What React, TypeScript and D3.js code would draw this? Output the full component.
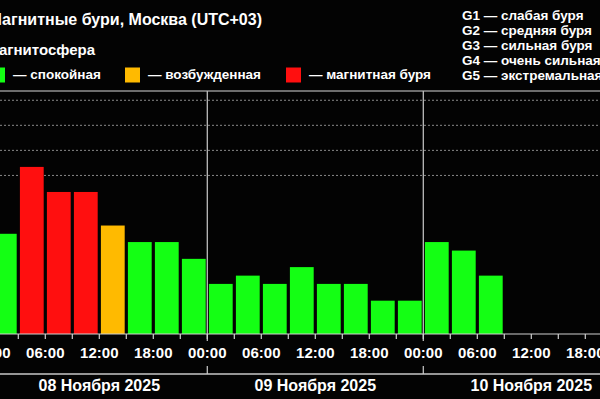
import React from "react";
import * as d3 from "d3";

// ---- data ----
const days = ["08 Ноября 2025", "09 Ноября 2025", "10 Ноября 2025"];
const kp08 = [4.0, 6.67, 5.67, 5.67, 4.33, 3.67, 3.67, 3.0];
const kp09 = [2.0, 2.33, 2.0, 2.67, 2.0, 2.0, 1.33, 1.33];
const kp10 = [3.67, 3.33, 2.33];
const hourLabels = ["00:00", "06:00", "12:00", "18:00"];
const gridValues = [6.33, 7.33, 8.33, 9.33];
const stateLegend = [
  { key: "calm", label: "— спокойная" },
  { key: "excited", label: "— возбужденная" },
  { key: "storm", label: "— магнитная буря" },
];
const gLegend = [
  "G1 — слабая буря",
  "G2 — средняя буря",
  "G3 — сильная буря",
  "G4 — очень сильная буря",
  "G5 — экстремальная буря",
];
const titleText = "Магнитные бури, Москва (UTC+03)";
const subTitle = "Магнитосфера";

const W = 600;
const H = 399;
const FONT = "'Liberation Sans', Arial, sans-serif";
const colors: Record<string, string> = {
  calm: "#14ff14",
  excited: "#ffba00",
  storm: "#ff0f0f",
};

function stateOf(kp: number) {
  if (kp < 4.2) return "calm";
  if (kp < 5) return "excited";
  return "storm";
}

export default function App() {
  const values = [...kp08, ...kp09, ...kp10];
  const x = d3.scaleLinear().domain([0, 72]).range([-8.7, -8.7 + 648]);
  const y = d3.scaleLinear().domain([0, 9.7]).range([334, 91]);
  const step = 3;
  const pad = 1.6;
  const ticks3 = d3.range(0, 73, 3);
  const ticks6 = d3.range(0, 72, 6);
  const dayLines = [24, 48];
  const legendX = [-10, 125, 286];

  return (
    <svg
      width={W}
      height={H}
      style={{ position: "absolute", left: 0, top: 0, display: "block" }}
      fontFamily={FONT}
      fontWeight="bold"
    >
      <rect x={0} y={0} width={W} height={H} fill="#030303" />

      {/* title */}
      <text x={262} y={25} fill="#fff" fontSize={16} textAnchor="end">
        {titleText}
      </text>
      <text x={95} y={55} fill="#fff" fontSize={15} textAnchor="end">
        {subTitle}
      </text>

      {/* state legend */}
      {stateLegend.map((s, i) => (
        <g key={s.key}>
          <rect x={legendX[i]} y={67.5} width={15} height={15} fill={colors[s.key]} />
          <text x={legendX[i] + 23} y={79} fill="#fff" fontSize={13.5}>
            {s.label}
          </text>
        </g>
      ))}

      {/* G legend */}
      {gLegend.map((g, i) => (
        <text key={g} x={462} y={19.5 + i * 15} fill="#fff" fontSize={13.5}>
          {g}
        </text>
      ))}

      {/* grid */}
      {gridValues.map((v) => (
        <line
          key={v}
          x1={0}
          x2={W}
          y1={y(v)}
          y2={y(v)}
          stroke="#8a8a8a"
          strokeWidth={1}
          strokeDasharray="2,2"
        />
      ))}
      <line x1={0} x2={W} y1={91} y2={91} stroke="#d8d8d8" strokeWidth={1.2} />

      {/* bars */}
      {values.map((v, i) => (
        <rect
          key={i}
          x={x(i * step) + pad}
          y={y(v)}
          width={x((i + 1) * step) - x(i * step) - 2 * pad}
          height={y(0) - y(v)}
          fill={colors[stateOf(v)]}
        />
      ))}

      {/* day separators */}
      {dayLines.map((h) => (
        <g key={h}>
          <line x1={x(h)} x2={x(h)} y1={91} y2={341} stroke="#bdbdbd" strokeWidth={1.3} />
          <line x1={x(h)} x2={x(h)} y1={366} y2={374} stroke="#bdbdbd" strokeWidth={1.3} />
        </g>
      ))}

      {/* axis */}
      <line x1={0} x2={W} y1={y(0)} y2={y(0)} stroke="#d0d0d0" strokeWidth={1.2} />
      {ticks3.map((h) => (
        <line key={h} x1={x(h)} x2={x(h)} y1={y(0)} y2={y(0) + 5} stroke="#d0d0d0" strokeWidth={1.2} />
      ))}
      {ticks6.map((h, i) => (
        <text key={h} x={x(h)} y={358} fill="#fff" fontSize={15} textAnchor="middle">
          {hourLabels[i % 4]}
        </text>
      ))}
      <line x1={0} x2={W} y1={374} y2={374} stroke="#c8c8c8" strokeWidth={1.5} />
      {days.map((d, i) => (
        <text key={d} x={x(i * 24 + 12)} y={391} fill="#fff" fontSize={16} textAnchor="middle">
          {d}
        </text>
      ))}
    </svg>
  );
}
